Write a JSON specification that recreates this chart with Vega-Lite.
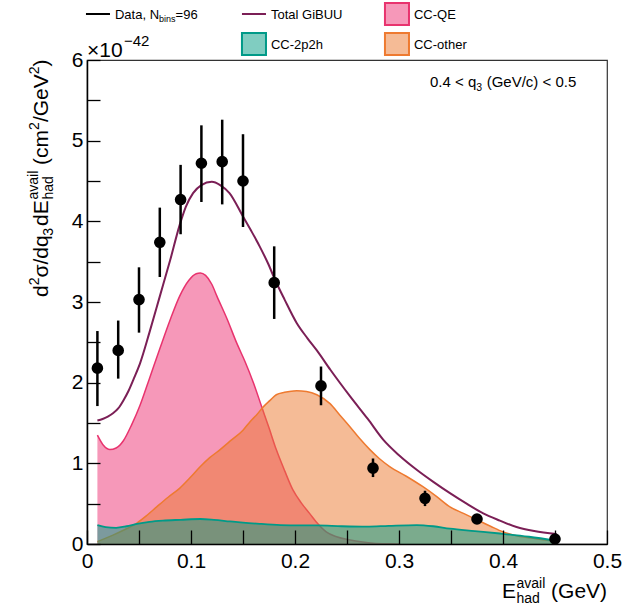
{
  "$schema": "https://vega.github.io/schema/vega-lite/v6.json",
  "width": 520,
  "height": 484,
  "autosize": {"type": "none"},
  "padding": {"left": 87, "top": 60, "right": 37, "bottom": 68},
  "config": {
    "font": "Liberation Sans",
    "view": {"stroke": "#333333", "strokeWidth": 1.2},
    "text": {"font": "Liberation Sans", "color": "black"}
  },
  "datasets": {
    "qe": [
      {"x": 0.010, "y": 1.35}, {"x": 0.016, "y": 1.22}, {"x": 0.022, "y": 1.17}, {"x": 0.028, "y": 1.19},
      {"x": 0.035, "y": 1.28}, {"x": 0.043, "y": 1.48}, {"x": 0.051, "y": 1.72}, {"x": 0.060, "y": 2.05},
      {"x": 0.070, "y": 2.42}, {"x": 0.080, "y": 2.78}, {"x": 0.089, "y": 3.07}, {"x": 0.098, "y": 3.27},
      {"x": 0.105, "y": 3.35}, {"x": 0.109, "y": 3.36}, {"x": 0.114, "y": 3.33}, {"x": 0.120, "y": 3.22},
      {"x": 0.125, "y": 3.07}, {"x": 0.135, "y": 2.78}, {"x": 0.144, "y": 2.49}, {"x": 0.152, "y": 2.26},
      {"x": 0.160, "y": 2.00}, {"x": 0.168, "y": 1.70}, {"x": 0.175, "y": 1.44}, {"x": 0.182, "y": 1.17},
      {"x": 0.190, "y": 0.91}, {"x": 0.198, "y": 0.67}, {"x": 0.206, "y": 0.51}, {"x": 0.214, "y": 0.38},
      {"x": 0.222, "y": 0.25}, {"x": 0.230, "y": 0.15}, {"x": 0.240, "y": 0.09}, {"x": 0.253, "y": 0.05},
      {"x": 0.265, "y": 0.025}, {"x": 0.275, "y": 0.01}, {"x": 0.290, "y": 0.002}, {"x": 0.300, "y": 0.0}
    ],
    "other": [
      {"x": 0.010, "y": 0.03}, {"x": 0.025, "y": 0.11}, {"x": 0.035, "y": 0.17}, {"x": 0.048, "y": 0.26},
      {"x": 0.058, "y": 0.36}, {"x": 0.067, "y": 0.46}, {"x": 0.078, "y": 0.58}, {"x": 0.089, "y": 0.69},
      {"x": 0.099, "y": 0.82}, {"x": 0.109, "y": 0.96}, {"x": 0.118, "y": 1.07}, {"x": 0.128, "y": 1.17},
      {"x": 0.139, "y": 1.29}, {"x": 0.150, "y": 1.41}, {"x": 0.157, "y": 1.52}, {"x": 0.163, "y": 1.60},
      {"x": 0.1695, "y": 1.70}, {"x": 0.176, "y": 1.78}, {"x": 0.182, "y": 1.85}, {"x": 0.190, "y": 1.88},
      {"x": 0.2016, "y": 1.90}, {"x": 0.211, "y": 1.89}, {"x": 0.221, "y": 1.85}, {"x": 0.2337, "y": 1.74},
      {"x": 0.243, "y": 1.60}, {"x": 0.253, "y": 1.45}, {"x": 0.262, "y": 1.31}, {"x": 0.272, "y": 1.17},
      {"x": 0.281, "y": 1.06}, {"x": 0.291, "y": 0.96}, {"x": 0.307, "y": 0.84}, {"x": 0.323, "y": 0.71},
      {"x": 0.336, "y": 0.59}, {"x": 0.349, "y": 0.46}, {"x": 0.362, "y": 0.38}, {"x": 0.375, "y": 0.30},
      {"x": 0.388, "y": 0.22}, {"x": 0.400, "y": 0.15}, {"x": 0.414, "y": 0.10}, {"x": 0.429, "y": 0.07},
      {"x": 0.4516, "y": 0.03}
    ],
    "mec": [
      {"x": 0.010, "y": 0.235}, {"x": 0.018, "y": 0.21}, {"x": 0.028, "y": 0.20}, {"x": 0.038, "y": 0.22},
      {"x": 0.048, "y": 0.25}, {"x": 0.060, "y": 0.275}, {"x": 0.073, "y": 0.29}, {"x": 0.090, "y": 0.30},
      {"x": 0.109, "y": 0.31}, {"x": 0.122, "y": 0.30}, {"x": 0.1375, "y": 0.28}, {"x": 0.150, "y": 0.265},
      {"x": 0.166, "y": 0.25}, {"x": 0.186, "y": 0.235}, {"x": 0.205, "y": 0.23}, {"x": 0.221, "y": 0.23},
      {"x": 0.245, "y": 0.22}, {"x": 0.269, "y": 0.215}, {"x": 0.290, "y": 0.225}, {"x": 0.317, "y": 0.235},
      {"x": 0.333, "y": 0.22}, {"x": 0.349, "y": 0.19}, {"x": 0.373, "y": 0.16}, {"x": 0.397, "y": 0.13},
      {"x": 0.425, "y": 0.09}, {"x": 0.4516, "y": 0.04}
    ],
    "total": [
      {"x": 0.010, "y": 1.53}, {"x": 0.015, "y": 1.55}, {"x": 0.020, "y": 1.58}, {"x": 0.025, "y": 1.62},
      {"x": 0.030, "y": 1.68}, {"x": 0.035, "y": 1.78}, {"x": 0.040, "y": 1.90}, {"x": 0.045, "y": 2.05},
      {"x": 0.051, "y": 2.24}, {"x": 0.060, "y": 2.62}, {"x": 0.070, "y": 3.07}, {"x": 0.080, "y": 3.52},
      {"x": 0.089, "y": 3.95}, {"x": 0.095, "y": 4.18}, {"x": 0.102, "y": 4.35}, {"x": 0.110, "y": 4.45},
      {"x": 0.120, "y": 4.49}, {"x": 0.128, "y": 4.45}, {"x": 0.137, "y": 4.35}, {"x": 0.150, "y": 4.06},
      {"x": 0.158, "y": 3.88}, {"x": 0.166, "y": 3.69}, {"x": 0.174, "y": 3.48}, {"x": 0.181, "y": 3.27},
      {"x": 0.190, "y": 3.03}, {"x": 0.2016, "y": 2.74}, {"x": 0.212, "y": 2.55}, {"x": 0.221, "y": 2.40},
      {"x": 0.234, "y": 2.16}, {"x": 0.253, "y": 1.83}, {"x": 0.270, "y": 1.55}, {"x": 0.285, "y": 1.29},
      {"x": 0.300, "y": 1.10}, {"x": 0.317, "y": 0.92}, {"x": 0.333, "y": 0.77}, {"x": 0.349, "y": 0.63},
      {"x": 0.365, "y": 0.50}, {"x": 0.381, "y": 0.38}, {"x": 0.397, "y": 0.29}, {"x": 0.413, "y": 0.21},
      {"x": 0.430, "y": 0.16}, {"x": 0.4516, "y": 0.124}
    ],
    "points": [
      {"x": 0.01, "y": 2.18, "lo": 1.71, "hi": 2.64},
      {"x": 0.03, "y": 2.40, "lo": 2.05, "hi": 2.77},
      {"x": 0.05, "y": 3.03, "lo": 2.62, "hi": 3.43},
      {"x": 0.07, "y": 3.74, "lo": 3.31, "hi": 4.17},
      {"x": 0.09, "y": 4.27, "lo": 3.84, "hi": 4.70},
      {"x": 0.11, "y": 4.72, "lo": 4.24, "hi": 5.19},
      {"x": 0.13, "y": 4.74, "lo": 4.21, "hi": 5.26},
      {"x": 0.15, "y": 4.50, "lo": 3.93, "hi": 5.08},
      {"x": 0.18, "y": 3.24, "lo": 2.79, "hi": 3.69},
      {"x": 0.225, "y": 1.96, "lo": 1.72, "hi": 2.20},
      {"x": 0.275, "y": 0.94, "lo": 0.83, "hi": 1.06},
      {"x": 0.325, "y": 0.566, "lo": 0.47, "hi": 0.66},
      {"x": 0.375, "y": 0.31, "lo": 0.28, "hi": 0.34},
      {"x": 0.45, "y": 0.062, "lo": 0.04, "hi": 0.08}
    ]
  },
  "layer": [
    {
      "data": {"name": "qe"},
      "mark": {"type": "area", "color": "#ee3173", "fillOpacity": 0.5, "interpolate": "monotone"},
      "encoding": {
        "x": {"field": "x", "type": "quantitative", "scale": {"domain": [0, 0.5], "nice": false, "zero": false},
          "axis": {
            "title": null, "grid": false, "zindex": 1, "ticks": true,
            "values": [0, 0.05, 0.1, 0.15, 0.2, 0.25, 0.3, 0.35, 0.4, 0.45, 0.5],
            "domainColor": "black", "domainWidth": 1.5,
            "tickColor": "black", "tickWidth": 1.3, "tickSize": -14,
            "labelFont": "Liberation Sans", "labelFontSize": 21, "labelColor": "black", "labelPadding": 20,
            "labelOverlap": false, "labelFlush": false, "labelBound": false,
            "labelExpr": "abs(datum.value*10 - round(datum.value*10)) < 1e-6 ? format(datum.value, '.1~f') : ''",
            "encode": {"ticks": {"update": {"y2": {"signal": "abs(datum.value*10 - round(datum.value*10)) < 1e-6 ? -14 : -7"}}}}
          }
        },
        "y": {"field": "y", "type": "quantitative", "scale": {"domain": [0, 6], "nice": false, "zero": false},
          "axis": {
            "title": null, "grid": false, "zindex": 1, "ticks": true,
            "values": [0, 0.5, 1, 1.5, 2, 2.5, 3, 3.5, 4, 4.5, 5, 5.5, 6],
            "domainColor": "black", "domainWidth": 1.5,
            "tickColor": "black", "tickWidth": 1.3, "tickSize": -13,
            "labelFont": "Liberation Sans", "labelFontSize": 21, "labelColor": "black", "labelPadding": 17,
            "labelOverlap": false, "labelFlush": false, "labelBound": false,
            "labelExpr": "datum.value % 1 == 0 ? format(datum.value, 'd') : ''",
            "encode": {"ticks": {"update": {"x2": {"signal": "datum.value % 1 == 0 ? 13 : 7"}}}}
          }
        }
      }
    },
    {
      "data": {"name": "qe"},
      "mark": {"type": "line", "color": "#e8336e", "strokeWidth": 1.5, "interpolate": "monotone"},
      "encoding": {
        "x": {"field": "x", "type": "quantitative", "scale": {"domain": [0, 0.5]}},
        "y": {"field": "y", "type": "quantitative", "scale": {"domain": [0, 6]}}
      }
    },
    {
      "data": {"name": "other"},
      "mark": {"type": "area", "color": "#eb772d", "fillOpacity": 0.5, "interpolate": "monotone"},
      "encoding": {
        "x": {"field": "x", "type": "quantitative", "scale": {"domain": [0, 0.5]}},
        "y": {"field": "y", "type": "quantitative", "scale": {"domain": [0, 6]}}
      }
    },
    {
      "data": {"name": "other"},
      "mark": {"type": "line", "color": "#ee7a30", "strokeWidth": 1.5, "interpolate": "monotone"},
      "encoding": {
        "x": {"field": "x", "type": "quantitative", "scale": {"domain": [0, 0.5]}},
        "y": {"field": "y", "type": "quantitative", "scale": {"domain": [0, 6]}}
      }
    },
    {
      "data": {"name": "mec"},
      "mark": {"type": "area", "color": "#019b83", "fillOpacity": 0.5, "interpolate": "monotone"},
      "encoding": {
        "x": {"field": "x", "type": "quantitative", "scale": {"domain": [0, 0.5]}},
        "y": {"field": "y", "type": "quantitative", "scale": {"domain": [0, 6]}}
      }
    },
    {
      "data": {"name": "mec"},
      "mark": {"type": "line", "color": "#009a88", "strokeWidth": 1.8, "interpolate": "monotone"},
      "encoding": {
        "x": {"field": "x", "type": "quantitative", "scale": {"domain": [0, 0.5]}},
        "y": {"field": "y", "type": "quantitative", "scale": {"domain": [0, 6]}}
      }
    },
    {
      "data": {"name": "total"},
      "mark": {"type": "line", "color": "#7b1f56", "strokeWidth": 2, "interpolate": "monotone"},
      "encoding": {
        "x": {"field": "x", "type": "quantitative", "scale": {"domain": [0, 0.5]}},
        "y": {"field": "y", "type": "quantitative", "scale": {"domain": [0, 6]}}
      }
    },
    {
      "data": {"name": "points"},
      "mark": {"type": "rule", "color": "black", "strokeWidth": 2.5},
      "encoding": {
        "x": {"field": "x", "type": "quantitative", "scale": {"domain": [0, 0.5]}},
        "y": {"field": "lo", "type": "quantitative", "scale": {"domain": [0, 6]}},
        "y2": {"field": "hi"}
      }
    },
    {
      "data": {"name": "points"},
      "mark": {"type": "circle", "color": "black", "opacity": 1, "size": 135},
      "encoding": {
        "x": {"field": "x", "type": "quantitative", "scale": {"domain": [0, 0.5]}},
        "y": {"field": "y", "type": "quantitative", "scale": {"domain": [0, 6]}}
      }
    },
    {
      "data": {"values": [{}]},
      "layer": [
        {"mark": {"type": "rule", "color": "black", "strokeWidth": 2, "clip": false},
         "encoding": {"x": {"datum": -0.001}, "x2": {"datum": 0.0221}, "y": {"datum": 6.57}}},
        {"mark": {"type": "text", "text": "Data, N", "fontSize": 13, "align": "left", "baseline": "alphabetic", "clip": false},
         "encoding": {"x": {"datum": 0.0269}, "y": {"datum": 6.508}}},
        {"mark": {"type": "text", "text": "bins", "fontSize": 9, "align": "left", "baseline": "alphabetic", "dx": 44.1, "dy": 3, "clip": false},
         "encoding": {"x": {"datum": 0.0269}, "y": {"datum": 6.508}}},
        {"mark": {"type": "text", "text": "=96", "fontSize": 13, "align": "left", "baseline": "alphabetic", "dx": 60.6, "clip": false},
         "encoding": {"x": {"datum": 0.0269}, "y": {"datum": 6.508}}},
        {"mark": {"type": "rule", "color": "#7b1f56", "strokeWidth": 2, "clip": false},
         "encoding": {"x": {"datum": 0.149}, "x2": {"datum": 0.1721}, "y": {"datum": 6.57}}},
        {"mark": {"type": "text", "text": "Total GiBUU", "fontSize": 13, "align": "left", "baseline": "alphabetic", "clip": false},
         "encoding": {"x": {"datum": 0.1769}, "y": {"datum": 6.508}}},
        {"mark": {"type": "rect", "fill": "#ee3173", "fillOpacity": 0.5, "stroke": "#e8336e", "strokeWidth": 2, "clip": false},
         "encoding": {"x": {"datum": 0.2865}, "x2": {"datum": 0.3096}, "y": {"datum": 6.706}, "y2": {"datum": 6.434}}},
        {"mark": {"type": "text", "text": "CC-QE", "fontSize": 13, "align": "left", "baseline": "alphabetic", "clip": false},
         "encoding": {"x": {"datum": 0.3144}, "y": {"datum": 6.508}}},
        {"mark": {"type": "rect", "fill": "#019b83", "fillOpacity": 0.5, "stroke": "#009a88", "strokeWidth": 2, "clip": false},
         "encoding": {"x": {"datum": 0.149}, "x2": {"datum": 0.1721}, "y": {"datum": 6.335}, "y2": {"datum": 6.062}}},
        {"mark": {"type": "text", "text": "CC-2p2h", "fontSize": 13, "align": "left", "baseline": "alphabetic", "clip": false},
         "encoding": {"x": {"datum": 0.1769}, "y": {"datum": 6.136}}},
        {"mark": {"type": "rect", "fill": "#eb772d", "fillOpacity": 0.5, "stroke": "#ee7a30", "strokeWidth": 2, "clip": false},
         "encoding": {"x": {"datum": 0.2865}, "x2": {"datum": 0.3096}, "y": {"datum": 6.335}, "y2": {"datum": 6.062}}},
        {"mark": {"type": "text", "text": "CC-other", "fontSize": 13, "align": "left", "baseline": "alphabetic", "clip": false},
         "encoding": {"x": {"datum": 0.3144}, "y": {"datum": 6.136}}},
        {"mark": {"type": "text", "text": "×10", "fontSize": 21, "align": "left", "baseline": "alphabetic", "clip": false},
         "encoding": {"x": {"datum": 0}, "y": {"datum": 6.037}}},
        {"mark": {"type": "text", "text": "−42", "fontSize": 15, "align": "left", "baseline": "alphabetic", "dx": 37, "dy": -11, "clip": false},
         "encoding": {"x": {"datum": 0}, "y": {"datum": 6.037}}},
        {"mark": {"type": "text", "text": "0.4 < q", "fontSize": 15, "align": "left", "baseline": "alphabetic", "clip": false},
         "encoding": {"x": {"datum": 0.3298}, "y": {"datum": 5.665}}},
        {"mark": {"type": "text", "text": "3", "fontSize": 10.5, "align": "left", "baseline": "alphabetic", "dx": 46.3, "dy": 4, "clip": false},
         "encoding": {"x": {"datum": 0.3298}, "y": {"datum": 5.665}}},
        {"mark": {"type": "text", "text": "(GeV/c) < 0.5", "fontSize": 15, "align": "left", "baseline": "alphabetic", "dx": 56.7, "clip": false},
         "encoding": {"x": {"datum": 0.3298}, "y": {"datum": 5.665}}},
        {"mark": {"type": "text", "text": "E", "fontSize": 21, "align": "left", "baseline": "alphabetic", "clip": false},
         "encoding": {"x": {"datum": 0.399}, "y": {"datum": -0.669}}},
        {"mark": {"type": "text", "text": "avail", "fontSize": 14, "align": "left", "baseline": "alphabetic", "dx": 14.5, "dy": -10, "clip": false},
         "encoding": {"x": {"datum": 0.399}, "y": {"datum": -0.669}}},
        {"mark": {"type": "text", "text": "had", "fontSize": 14, "align": "left", "baseline": "alphabetic", "dx": 14.5, "dy": 5, "clip": false},
         "encoding": {"x": {"datum": 0.399}, "y": {"datum": -0.669}}},
        {"mark": {"type": "text", "text": "(GeV)", "fontSize": 21, "align": "left", "baseline": "alphabetic", "dx": 49.1, "clip": false},
         "encoding": {"x": {"datum": 0.399}, "y": {"datum": -0.669}}},
        {"mark": {"type": "text", "text": "d", "fontSize": 21, "angle": 270, "align": "left", "baseline": "alphabetic", "dx": 0, "clip": false},
         "encoding": {"x": {"datum": -0.0375}, "y": {"datum": 3.062}}},
        {"mark": {"type": "text", "text": "2", "fontSize": 14, "angle": 270, "align": "left", "baseline": "alphabetic", "dx": 11.7, "dy": -9, "clip": false},
         "encoding": {"x": {"datum": -0.0375}, "y": {"datum": 3.062}}},
        {"mark": {"type": "text", "text": "σ/dq", "fontSize": 21, "angle": 270, "align": "left", "baseline": "alphabetic", "dx": 19.5, "clip": false},
         "encoding": {"x": {"datum": -0.0375}, "y": {"datum": 3.062}}},
        {"mark": {"type": "text", "text": "3", "fontSize": 14, "angle": 270, "align": "left", "baseline": "alphabetic", "dx": 61.3, "dy": 5, "clip": false},
         "encoding": {"x": {"datum": -0.0375}, "y": {"datum": 3.062}}},
        {"mark": {"type": "text", "text": "dE", "fontSize": 21, "angle": 270, "align": "left", "baseline": "alphabetic", "dx": 71, "clip": false},
         "encoding": {"x": {"datum": -0.0375}, "y": {"datum": 3.062}}},
        {"mark": {"type": "text", "text": "avail", "fontSize": 14, "angle": 270, "align": "left", "baseline": "alphabetic", "dx": 97.5, "dy": -10, "clip": false},
         "encoding": {"x": {"datum": -0.0375}, "y": {"datum": 3.062}}},
        {"mark": {"type": "text", "text": "had", "fontSize": 14, "angle": 270, "align": "left", "baseline": "alphabetic", "dx": 97.5, "dy": 5, "clip": false},
         "encoding": {"x": {"datum": -0.0375}, "y": {"datum": 3.062}}},
        {"mark": {"type": "text", "text": "(cm", "fontSize": 21, "angle": 270, "align": "left", "baseline": "alphabetic", "dx": 132.1, "clip": false},
         "encoding": {"x": {"datum": -0.0375}, "y": {"datum": 3.062}}},
        {"mark": {"type": "text", "text": "2", "fontSize": 14, "angle": 270, "align": "left", "baseline": "alphabetic", "dx": 167.1, "dy": -9, "clip": false},
         "encoding": {"x": {"datum": -0.0375}, "y": {"datum": 3.062}}},
        {"mark": {"type": "text", "text": "/GeV", "fontSize": 21, "angle": 270, "align": "left", "baseline": "alphabetic", "dx": 174.9, "clip": false},
         "encoding": {"x": {"datum": -0.0375}, "y": {"datum": 3.062}}},
        {"mark": {"type": "text", "text": "2", "fontSize": 14, "angle": 270, "align": "left", "baseline": "alphabetic", "dx": 222.8, "dy": -9, "clip": false},
         "encoding": {"x": {"datum": -0.0375}, "y": {"datum": 3.062}}},
        {"mark": {"type": "text", "text": ")", "fontSize": 21, "angle": 270, "align": "left", "baseline": "alphabetic", "dx": 230.6, "clip": false},
         "encoding": {"x": {"datum": -0.0375}, "y": {"datum": 3.062}}}
      ]
    }
  ]
}
